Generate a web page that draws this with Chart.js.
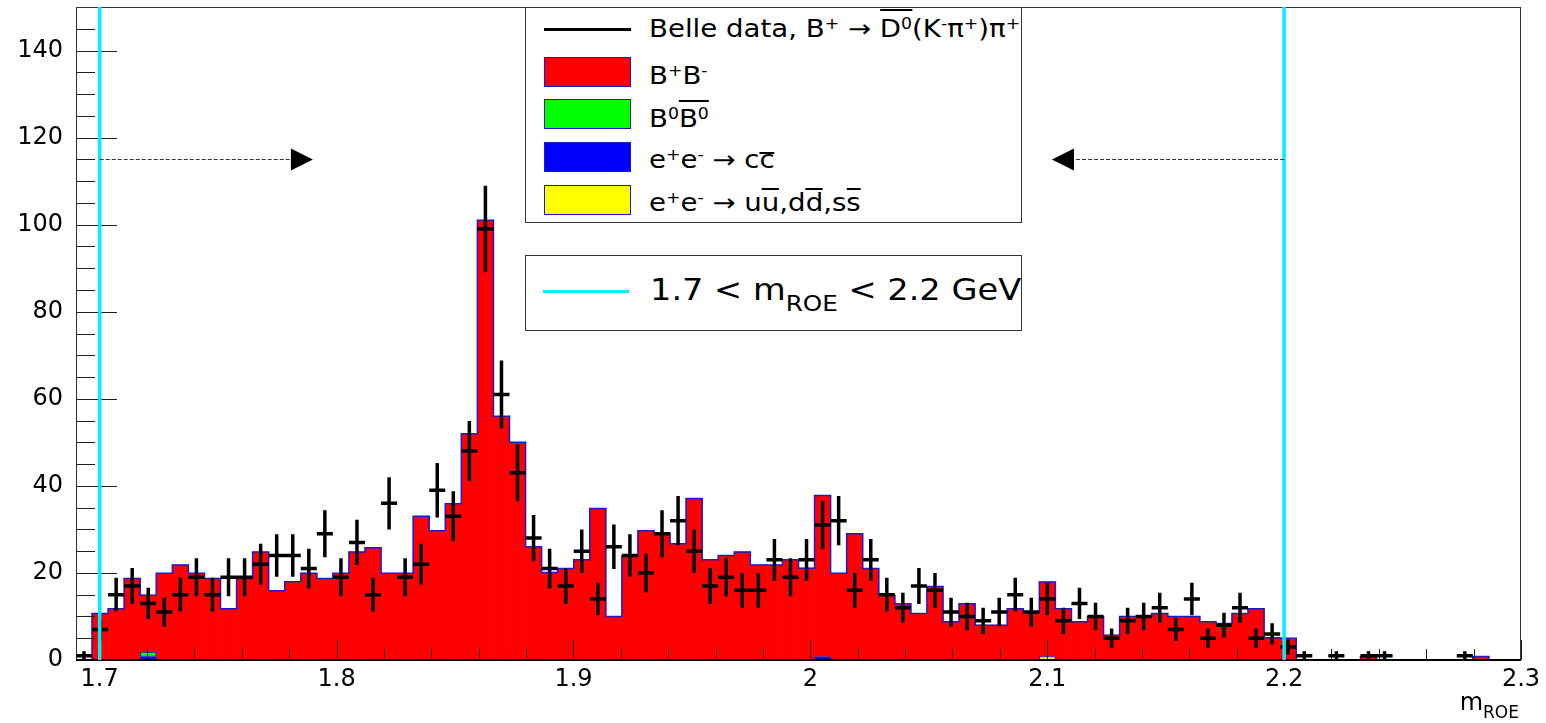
<!DOCTYPE html>
<html>
<head>
<meta charset="utf-8">
<title>m_ROE, Belle data vs MC</title>
<script src="https://cdn.jsdelivr.net/npm/chart.js@4.4.1/dist/chart.umd.min.js"></script>
<style>
  html, body { margin: 0; padding: 0; background: #fff; }
  #wrap { position: relative; width: 1546px; height: 723px; font-family: "DejaVu Sans", sans-serif; color: #000; }
  #chart { position: absolute; left: 0; top: 0; }
  .box { position: absolute; background: #fff; border: 1px solid #333; box-sizing: border-box; overflow: hidden; }
  .swatch { position: absolute; left: 18px; width: 87px; height: 30px; border: 1px solid #1a1ad0; box-sizing: border-box; }
  .txt { position: absolute; white-space: nowrap; font-size: 24px; line-height: 24px; }
  .wide { transform: scaleX(1.15); transform-origin: left center; }
  .txt sup { font-size: 15px; line-height: 0; vertical-align: 8px; }
  .txt sub { line-height: 0; }
  .ol { position: relative; }
  .ol::before { content: ""; position: absolute; left: 0; right: 0; top: var(--t, -6px); border-top: 2px solid #000; }
</style>
</head>
<body>
<div id="wrap">
  <canvas id="chart" width="1546" height="723"></canvas>

  <div class="box" style="left:525px; top:7px; width:497px; height:216px;">
    <div style="position:absolute; left:18px; top:20px; width:87px; height:3px; background:#000;"></div>
    <div class="txt wide" style="left:123px; top:9px;">Belle data, B<sup>+</sup> &#8594; <span class="ol" style="--t:-6px">D<sup>0</sup></span>(K<sup>-</sup>&#960;<sup>+</sup>)&#960;<sup>+</sup></div>
    <div class="swatch" style="top:49px; background:#ff0000;"></div>
    <div class="txt wide" style="left:123px; top:56px;">B<sup>+</sup>B<sup>-</sup></div>
    <div class="swatch" style="top:91px; background:#00ff00;"></div>
    <div class="txt wide" style="left:123px; top:99px;">B<sup>0</sup><span class="ol" style="--t:-5px">B<sup>0</sup></span></div>
    <div class="swatch" style="top:134px; background:#0000ff;"></div>
    <div class="txt wide" style="left:123px; top:140px;">e<sup>+</sup>e<sup>-</sup> &#8594; c<span class="ol" style="--t:6px">c</span></div>
    <div class="swatch" style="top:177px; background:#ffff00;"></div>
    <div class="txt wide" style="left:123px; top:183px;">e<sup>+</sup>e<sup>-</sup> &#8594; u<span class="ol" style="--t:-1px">u</span>,d<span class="ol" style="--t:-1px">d</span>,s<span class="ol" style="--t:-1px">s</span></div>
  </div>

  <div class="box" style="left:525px; top:255px; width:497px; height:76px;">
    <div style="position:absolute; left:17px; top:34px; width:86px; height:3px; background:#00f0ff;"></div>
    <div class="txt" style="left:124px; top:19px; font-size:30px; line-height:30px; transform:scaleX(1.12); transform-origin:left center;">1.7 &lt; m<sub style="font-size:22px; vertical-align:-11px;">ROE</sub> &lt; 2.2 GeV</div>
  </div>

  <div class="txt" style="right:27px; top:690px;">m<sub style="font-size:17px; vertical-align:-8px;">ROE</sub></div>
</div>

<script>
// histogram binning: 90 bins between 1.69 and 2.3 GeV
const BIN_LOW = 1.69;
const BIN_HIGH = 2.3;
const N_BINS = 90;

// Belle data, entries per bin
const dataCounts = [
     1,  7, 15, 17, 13, 11, 15, 19, 15, 19, 19, 22, 24, 24, 21,
    29, 19, 27, 15, 36, 19, 22, 39, 33, 48, 99, 61, 43, 28, 21,
    17, 25, 14, 26, 24, 20, 29, 32, 25, 17, 19, 16, 16, 23, 19,
    23, 31, 32, 16, 23, 15, 12, 17, 16, 11, 10,  9, 11, 15, 11,
    14,  9, 13, 10,  5,  9, 10, 12,  7, 14,  5,  8, 12,  5,  6,
     3,  1,  0,  1,  0,  1,  1,  0,  0,  0,  0,  1,  0,  0,  0
];

// MC components (stacked)
const mcBB = [
     0.0, 10.7, 11.8, 18.7, 13.1, 19.9, 21.8, 19.9, 18.7, 11.8, 18.7, 24.8, 15.9, 18.0, 19.9,
    18.7, 19.9, 24.8, 25.8, 19.9, 19.9, 33.0, 29.7, 35.9, 52.0, 101.0, 56.0, 50.0, 26.0, 20.1,
    21.0, 23.0, 34.8, 10.0, 23.9, 29.7, 29.1, 26.7, 37.1, 23.0, 24.0, 24.8, 21.8, 21.8, 23.0,
    21.1, 37.0, 19.9, 29.0, 21.0, 14.9, 12.9, 10.7, 16.9,  8.8, 12.9,  8.0,  8.0, 11.8, 10.9,
    17.1, 11.8,  8.8, 10.0,  5.7, 10.0, 10.0, 10.7, 10.0, 10.0,  8.8,  8.4, 10.7, 11.8,  5.1,
     5.0,  0.0,  0.0,  0.0,  0.0,  0.8,  0.0,  0.0,  0.0,  0.0,  0.0,  0.0,  0.8,  0.0,  0.0
];
const mcB0B0 = [
    0, 0, 0, 0, 1.0, 0, 0, 0, 0, 0, 0, 0, 0, 0, 0,
    0, 0, 0, 0, 0, 0, 0, 0, 0, 0, 0, 0, 0, 0, 0,
    0, 0, 0, 0, 0, 0, 0, 0, 0, 0, 0, 0, 0, 0, 0,
    0, 0, 0, 0, 0, 0, 0, 0, 0, 0, 0, 0, 0, 0, 0,
    0, 0, 0, 0, 0, 0, 0, 0, 0, 0, 0, 0, 0, 0, 0,
    0, 0, 0, 0, 0, 0, 0, 0, 0, 0, 0, 0, 0, 0, 0
];
const mcCC = [
    0, 0, 0, 0, 0.8, 0, 0, 0, 0, 0, 0, 0, 0, 0, 0,
    0, 0, 0, 0, 0, 0, 0, 0, 0, 0, 0, 0, 0, 0, 0,
    0, 0, 0, 0, 0, 0, 0, 0, 0, 0, 0, 0, 0, 0, 0,
    0, 0.8, 0, 0, 0, 0, 0, 0, 0, 0, 0, 0, 0, 0, 0,
    0, 0, 0, 0, 0, 0, 0, 0, 0, 0, 0, 0, 0, 0, 0,
    0, 0, 0, 0, 0, 0, 0, 0, 0, 0, 0, 0, 0, 0, 0
];
const mcUDS = [
    0, 0, 0, 0, 0, 0, 0, 0, 0, 0, 0, 0, 0, 0, 0,
    0, 0, 0, 0, 0, 0, 0, 0, 0, 0, 0, 0, 0, 0, 0,
    0, 0, 0, 0, 0, 0, 0, 0, 0, 0, 0, 0, 0, 0, 0,
    0, 0, 0, 0, 0, 0, 0, 0, 0, 0, 0, 0, 0, 0, 0,
    0.8, 0, 0, 0, 0, 0, 0, 0, 0, 0, 0, 0, 0, 0, 0,
    0, 0, 0, 0, 0, 0, 0, 0, 0, 0, 0, 0, 0, 0, 0
];

// axis ticks
const xTickValues = [1.7, 1.8, 1.9, 2.0, 2.1, 2.2, 2.3];
const xTickLabels = ['1.7', '1.8', '1.9', '2', '2.1', '2.2', '2.3'];
const yTickValues = [0, 20, 40, 60, 80, 100, 120, 140];
const yTickLabels = ['0', '20', '40', '60', '80', '100', '120', '140'];

// signal window and arrows
const CUT_LOW = 1.7;
const CUT_HIGH = 2.2;
const ARROW_Y = 115;
const ARROW_LEFT_TIP = 1.79;
const ARROW_RIGHT_TIP = 2.102;

const binWidth = (BIN_HIGH - BIN_LOW) / N_BINS;
const binCenters = dataCounts.map((_, i) => BIN_LOW + (i + 0.5) * binWidth);

function barData(values) {
    return values.map((v, i) => ({ x: binCenters[i], y: v ? v : null }));
}

const totals = mcBB.map((v, i) => v + mcB0B0[i] + mcCC[i] + mcUDS[i]);
const outline = totals.map((t, i) => ({ x: BIN_LOW + i * binWidth, y: t }));
outline.push({ x: BIN_HIGH, y: 0 });

const outlineColor = '#1a1ad0';

const rootStyle = {
    id: 'rootStyle',
    afterDatasetsDraw(chart) {
        const { ctx, chartArea: a, scales: { x, y } } = chart;
        ctx.save();

        // ticks inside the frame
        ctx.strokeStyle = '#222';
        ctx.lineWidth = 1;
        ctx.beginPath();
        for (let i = 0; i <= 30; i++) {
            const px = Math.round(x.getPixelForValue(1.7 + i * 0.02)) + 0.5;
            const len = i % 5 === 0 ? 20 : 11;
            ctx.moveTo(px, a.bottom);
            ctx.lineTo(px, a.bottom - len);
        }
        for (let i = 0; i <= 30; i++) {
            const py = Math.round(y.getPixelForValue(i * 5)) + 0.5;
            const len = (i * 5) % 20 === 0 ? 41 : 19;
            ctx.moveTo(a.left, py);
            ctx.lineTo(a.left + len, py);
        }
        ctx.stroke();

        // frame
        ctx.strokeStyle = '#333';
        ctx.strokeRect(a.left + 0.5, a.top + 0.5, a.right - a.left - 1, a.bottom - a.top);
        ctx.strokeStyle = '#000';
        ctx.lineWidth = 2;
        ctx.beginPath();
        ctx.moveTo(a.left, a.bottom);
        ctx.lineTo(a.right, a.bottom);
        ctx.stroke();

        // data points with poisson errors
        const points = chart.data.datasets[1].data;
        ctx.strokeStyle = '#000';
        ctx.lineWidth = 3.5;
        ctx.beginPath();
        points.forEach(p => {
            const err = Math.sqrt(p.y);
            const cx = x.getPixelForValue(p.x);
            const cy = y.getPixelForValue(p.y);
            ctx.moveTo(x.getPixelForValue(p.x - binWidth / 2), cy);
            ctx.lineTo(x.getPixelForValue(p.x + binWidth / 2), cy);
            ctx.moveTo(cx, y.getPixelForValue(p.y + err));
            ctx.lineTo(cx, y.getPixelForValue(Math.max(p.y - err, 0)));
        });
        ctx.stroke();

        // signal window
        ctx.strokeStyle = '#00f0ff';
        ctx.lineWidth = 3.5;
        ctx.beginPath();
        [CUT_LOW, CUT_HIGH].forEach(v => {
            const px = x.getPixelForValue(v);
            ctx.moveTo(px, a.top);
            ctx.lineTo(px, a.bottom);
        });
        ctx.stroke();

        // arrows pointing into the window
        const ay = Math.round(y.getPixelForValue(ARROW_Y)) + 0.5;
        const drawArrow = (from, tip) => {
            const x0 = x.getPixelForValue(from);
            const x1 = x.getPixelForValue(tip);
            const dir = x1 > x0 ? 1 : -1;
            const head = 22;
            ctx.strokeStyle = '#333';
            ctx.lineWidth = 1;
            ctx.setLineDash([4, 2]);
            ctx.beginPath();
            ctx.moveTo(x0, ay);
            ctx.lineTo(x1 - dir * head, ay);
            ctx.stroke();
            ctx.setLineDash([]);
            ctx.fillStyle = '#000';
            ctx.beginPath();
            ctx.moveTo(x1, ay);
            ctx.lineTo(x1 - dir * head, ay - 11);
            ctx.lineTo(x1 - dir * head, ay + 11);
            ctx.closePath();
            ctx.fill();
        };
        drawArrow(CUT_LOW, ARROW_LEFT_TIP);
        drawArrow(CUT_HIGH, ARROW_RIGHT_TIP);

        ctx.restore();
    }
};

Chart.defaults.font.family = '"DejaVu Sans", sans-serif';

const barCommon = {
    type: 'bar',
    grouped: false,
    barPercentage: 1,
    categoryPercentage: 1,
    stack: 'mc'
};

new Chart(document.getElementById('chart'), {
    type: 'bar',
    data: {
        datasets: [
            {
                type: 'line',
                label: 'MC total',
                data: outline,
                stepped: true,
                borderColor: outlineColor,
                borderWidth: 1.5,
                pointRadius: 0,
                fill: false,
                stack: 'outline'
            },
            {
                type: 'scatter',
                label: 'Belle data',
                data: binCenters.map((c, i) => ({ x: c, y: dataCounts[i] })).filter(p => p.y > 0),
                pointRadius: 0,
                showLine: false,
                stack: 'data'
            },
            { ...barCommon, label: 'uu,dd,ss', data: barData(mcUDS), backgroundColor: '#ffff00',
              borderColor: outlineColor, borderWidth: 1, borderSkipped: false },
            { ...barCommon, label: 'cc', data: barData(mcCC), backgroundColor: '#0000ff',
              borderColor: outlineColor, borderWidth: 1, borderSkipped: false },
            { ...barCommon, label: 'B0B0', data: barData(mcB0B0), backgroundColor: '#00ff00',
              borderColor: outlineColor, borderWidth: 1, borderSkipped: false },
            { ...barCommon, label: 'B+B-', data: barData(mcBB), backgroundColor: '#ff0000', borderWidth: 0 }
        ]
    },
    options: {
        responsive: false,
        animation: false,
        devicePixelRatio: 1,
        layout: { padding: { top: 7, right: 25, left: 0, bottom: 0 } },
        plugins: {
            legend: { display: false },
            tooltip: { enabled: false }
        },
        scales: {
            x: {
                type: 'linear',
                min: BIN_LOW,
                max: BIN_HIGH,
                offset: false,
                grid: { display: false, drawTicks: false },
                border: { display: false },
                afterBuildTicks: scale => { scale.ticks = xTickValues.map(v => ({ value: v })); },
                afterFit: scale => {
                    scale.height = 63;
                    scale.paddingLeft = 0;
                    scale.paddingRight = 0;
                },
                ticks: {
                    padding: 5,
                    color: '#000',
                    maxRotation: 0,
                    autoSkip: false,
                    font: { size: 24 },
                    callback: (value, index) => xTickLabels[index]
                }
            },
            y: {
                stacked: true,
                min: 0,
                max: 150,
                grid: { display: false, drawTicks: false },
                border: { display: false },
                afterBuildTicks: scale => { scale.ticks = yTickValues.map(v => ({ value: v })); },
                afterFit: scale => {
                    scale.width = 76;
                    scale.paddingTop = 0;
                    scale.paddingBottom = 0;
                },
                ticks: {
                    padding: 13,
                    color: '#000',
                    font: { size: 24 },
                    callback: (value, index) => yTickLabels[index]
                }
            }
        }
    },
    plugins: [rootStyle]
});
</script>
</body>
</html>
